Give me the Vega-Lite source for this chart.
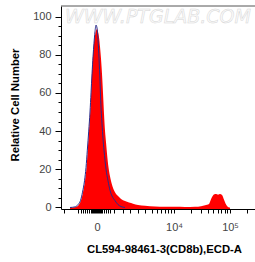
{
  "$schema": "https://vega.github.io/schema/vega-lite/v6.json",
  "width": 194,
  "height": 203,
  "autosize": {"type": "none"},
  "padding": {"left": 61, "top": 6, "right": 0, "bottom": 53},
  "background": "white",
  "config": {
    "view": {"stroke": null},
    "font": "Liberation Sans"
  },
  "datasets": {
    "red": [
      {"t": 2.143, "v": 0}, {"t": 2.25, "v": 0.3}, {"t": 2.304, "v": 1.5}, {"t": 2.339, "v": 3.6},
      {"t": 2.375, "v": 8}, {"t": 2.411, "v": 14}, {"t": 2.438, "v": 21}, {"t": 2.459, "v": 30},
      {"t": 2.482, "v": 40}, {"t": 2.504, "v": 50}, {"t": 2.518, "v": 58}, {"t": 2.536, "v": 71},
      {"t": 2.554, "v": 80}, {"t": 2.571, "v": 86}, {"t": 2.589, "v": 90}, {"t": 2.607, "v": 92.5},
      {"t": 2.625, "v": 93.5}, {"t": 2.643, "v": 92}, {"t": 2.661, "v": 89}, {"t": 2.679, "v": 84},
      {"t": 2.696, "v": 78}, {"t": 2.714, "v": 70}, {"t": 2.732, "v": 60}, {"t": 2.75, "v": 49},
      {"t": 2.768, "v": 40}, {"t": 2.786, "v": 34}, {"t": 2.804, "v": 28}, {"t": 2.83, "v": 21},
      {"t": 2.866, "v": 15}, {"t": 2.902, "v": 11}, {"t": 2.946, "v": 8}, {"t": 3.0, "v": 6},
      {"t": 3.054, "v": 4.5}, {"t": 3.125, "v": 3.4}, {"t": 3.196, "v": 2.6}, {"t": 3.268, "v": 2},
      {"t": 3.357, "v": 1.3}, {"t": 3.482, "v": 0.9}, {"t": 3.661, "v": 0.5}, {"t": 3.839, "v": 0.4},
      {"t": 4.018, "v": 0.4}, {"t": 4.196, "v": 0.3}, {"t": 4.375, "v": 0.4}, {"t": 4.482, "v": 0.7},
      {"t": 4.554, "v": 1.2}, {"t": 4.625, "v": 1.8}, {"t": 4.643, "v": 3}, {"t": 4.679, "v": 5.5},
      {"t": 4.714, "v": 6.8}, {"t": 4.75, "v": 7}, {"t": 4.786, "v": 6.7}, {"t": 4.821, "v": 7},
      {"t": 4.857, "v": 6.5}, {"t": 4.893, "v": 4}, {"t": 4.929, "v": 1.5}, {"t": 4.964, "v": 0.3},
      {"t": 5.0, "v": 0}
    ],
    "blue": [
      {"t": 2.143, "v": 0}, {"t": 2.232, "v": 0.3}, {"t": 2.286, "v": 1.5}, {"t": 2.33, "v": 3.6},
      {"t": 2.366, "v": 8}, {"t": 2.402, "v": 14}, {"t": 2.429, "v": 21}, {"t": 2.452, "v": 30},
      {"t": 2.477, "v": 40}, {"t": 2.5, "v": 50}, {"t": 2.518, "v": 60}, {"t": 2.536, "v": 70},
      {"t": 2.554, "v": 79}, {"t": 2.571, "v": 86}, {"t": 2.589, "v": 92}, {"t": 2.607, "v": 95.5},
      {"t": 2.625, "v": 94}, {"t": 2.643, "v": 88}, {"t": 2.661, "v": 78}, {"t": 2.679, "v": 66},
      {"t": 2.691, "v": 56}, {"t": 2.714, "v": 44}, {"t": 2.732, "v": 36}, {"t": 2.75, "v": 30},
      {"t": 2.786, "v": 20}, {"t": 2.821, "v": 14}, {"t": 2.857, "v": 9}, {"t": 2.893, "v": 6},
      {"t": 2.946, "v": 3.6}, {"t": 3.0, "v": 1.5}, {"t": 3.054, "v": 0.5}, {"t": 3.125, "v": 0}
    ],
    "mark": [
      {"t": 2.054, "v": 100, "label": "WWW.PTGLAB.COM"}
    ],
    "frame": [
      {"t": 1.982, "t2": 5.446, "v": 105.5}
    ]
  },
  "encoding": {
    "x": {
      "field": "t", "type": "quantitative",
      "scale": {"domain": [1.982, 5.446], "nice": false, "zero": false},
      "axis": {
        "values": [2.036, 2.286, 2.339, 2.375, 2.411, 2.446, 2.482, 2.518, 2.536, 2.554, 2.571, 2.589, 2.607, 2.625, 2.643, 2.661, 2.679, 2.696, 2.714, 2.75, 2.786, 2.821, 2.857, 2.929, 3.089, 3.214, 3.357, 3.482, 3.607, 3.696, 3.768, 3.839, 3.893, 3.946, 4, 4.301, 4.477, 4.602, 4.699, 4.778, 4.845, 4.903, 4.954, 5, 5.301],
        "labelExpr": "abs(datum.value - 2.536) < 0.001 ? '\u200b' : abs(datum.value - 2.714) < 0.001 ? '\u200b' : abs(datum.value - 2.625) < 0.001 ? '0' : abs(datum.value - 4) < 0.001 ? '10⁴' : abs(datum.value - 5) < 0.001 ? '10⁵' : ''",
        "title": "CL594-98461-3(CD8b),ECD-A",
        "titleFont": "Liberation Sans", "titleFontWeight": "bold", "titleFontSize": 11.3, "titleColor": "#000000",
        "titleX": 103, "titleY": 40, "titleBaseline": "middle", "titleAnchor": "middle",
        "grid": false, "domainColor": "#000000", "tickColor": "#000000", "tickSize": 4,
        "labelColor": "#444444", "labelFontSize": 11, "labelPadding": 8, "labelDx": 3,
        "labelFlush": false, "labelOverlap": false, "labelBound": false
      }
    },
    "y": {
      "field": "v", "type": "quantitative",
      "scale": {"domain": [-0.8, 105.5], "nice": false, "zero": false},
      "axis": {
        "values": [0, 5, 10, 15, 20, 25, 30, 35, 40, 45, 50, 55, 60, 65, 70, 75, 80, 85, 90, 95, 100],
        "labelExpr": "datum.value % 20 == 0 ? datum.label : ''",
        "title": "Relative Cell Number",
        "titleFont": "Liberation Sans", "titleFontWeight": "bold", "titleFontSize": 11.3, "titleColor": "#000000",
        "titleX": -46, "titleY": 98.5, "titleBaseline": "middle", "titleAnchor": "middle",
        "grid": false, "domainColor": "#000000", "tickColor": "#000000",
        "tickSize": {"condition": {"test": "datum.value % 20 == 0", "value": 6}, "value": 3},
        "labelColor": "#444444", "labelFontSize": 11, "labelPadding": 4,
        "labelFlush": false, "labelOverlap": false
      }
    }
  },
  "layer": [
    {
      "data": {"name": "mark"},
      "mark": {"type": "text", "align": "left", "baseline": "middle", "font": "DejaVu Sans", "fontWeight": 200, "fontStyle": "italic", "fontSize": 19, "fill": "#fbfbfb", "stroke": "#d6d6d6", "strokeWidth": 0.5},
      "encoding": {
        "text": {"field": "label"}
      }
    },
    {
      "data": {"name": "red"},
      "mark": {"type": "area", "color": "#ff0000", "interpolate": "monotone"},
      "encoding": {
        "y2": {"datum": -0.8}
      }
    },
    {
      "data": {"name": "blue"},
      "mark": {"type": "line", "color": "#2a2a8a", "strokeWidth": 1, "interpolate": "monotone"},
      "encoding": {}
    },
    {
      "data": {"name": "frame"},
      "mark": {"type": "rule", "color": "#555555", "strokeWidth": 1},
      "encoding": {
        "x2": {"field": "t2"}
      }
    }
  ]
}
